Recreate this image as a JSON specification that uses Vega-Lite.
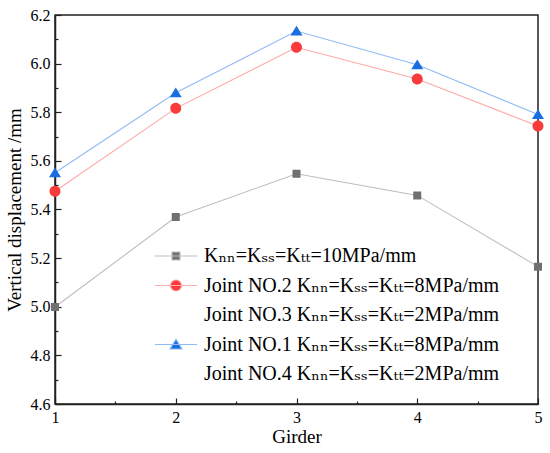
{
  "$schema": "https://vega.github.io/schema/vega-lite/v6.json",
  "width": 483,
  "height": 389,
  "autosize": {"type": "none"},
  "padding": {"left": 55, "top": 15, "right": 12, "bottom": 49},
  "background": "white",
  "config": {
    "font": "Liberation Serif",
    "view": {"stroke": "#222222", "strokeWidth": 1.5},
    "axis": {
      "domainColor": "#222222",
      "domainWidth": 1.5,
      "tickColor": "#222222",
      "tickWidth": 1.2,
      "grid": false,
      "labelColor": "black",
      "titleColor": "black",
      "labelFont": "Liberation Serif",
      "titleFont": "Liberation Serif",
      "labelFontSize": 16,
      "titleFontSize": 19,
      "titleFontWeight": "normal"
    },
    "legend": {
      "labelFont": "Liberation Serif, DejaVu Serif",
      "labelFontSize": 20,
      "labelColor": "black",
      "labelLimit": 0
    }
  },
  "data": {
    "values": [
      {"girder": 1, "series": "Kₙₙ=Kₛₛ=Kₜₜ=10MPa/mm", "v": 4.999},
      {"girder": 2, "series": "Kₙₙ=Kₛₛ=Kₜₜ=10MPa/mm", "v": 5.369},
      {"girder": 3, "series": "Kₙₙ=Kₛₛ=Kₜₜ=10MPa/mm", "v": 5.547},
      {"girder": 4, "series": "Kₙₙ=Kₛₛ=Kₜₜ=10MPa/mm", "v": 5.458},
      {"girder": 5, "series": "Kₙₙ=Kₛₛ=Kₜₜ=10MPa/mm", "v": 5.165},
      {"girder": 1, "series": "Joint NO.2 Kₙₙ=Kₛₛ=Kₜₜ=8MPa/mm", "v": 5.475},
      {"girder": 2, "series": "Joint NO.2 Kₙₙ=Kₛₛ=Kₜₜ=8MPa/mm", "v": 5.816},
      {"girder": 3, "series": "Joint NO.2 Kₙₙ=Kₛₛ=Kₜₜ=8MPa/mm", "v": 6.067},
      {"girder": 4, "series": "Joint NO.2 Kₙₙ=Kₛₛ=Kₜₜ=8MPa/mm", "v": 5.937},
      {"girder": 5, "series": "Joint NO.2 Kₙₙ=Kₛₛ=Kₜₜ=8MPa/mm", "v": 5.743},
      {"girder": 1, "series": "Joint NO.1 Kₙₙ=Kₛₛ=Kₜₜ=8MPa/mm", "v": 5.551},
      {"girder": 2, "series": "Joint NO.1 Kₙₙ=Kₛₛ=Kₜₜ=8MPa/mm", "v": 5.88},
      {"girder": 3, "series": "Joint NO.1 Kₙₙ=Kₛₛ=Kₜₜ=8MPa/mm", "v": 6.134},
      {"girder": 4, "series": "Joint NO.1 Kₙₙ=Kₛₛ=Kₜₜ=8MPa/mm", "v": 5.995},
      {"girder": 5, "series": "Joint NO.1 Kₙₙ=Kₛₛ=Kₜₜ=8MPa/mm", "v": 5.791}
    ]
  },
  "layer": [
    {
      "mark": {"type": "line", "strokeWidth": 1.1},
      "encoding": {
        "x": {
          "field": "girder",
          "type": "quantitative",
          "scale": {"domain": [1, 5]},
          "axis": {
            "title": "Girder",
            "values": [1, 2, 3, 4, 5],
            "format": "d",
            "tickSize": -6,
            "labelPadding": 11,
            "labelFlush": false,
            "titlePadding": 2
          }
        },
        "y": {
          "field": "v",
          "type": "quantitative",
          "scale": {"domain": [4.6, 6.2]},
          "axis": {
            "title": "Vertical displacement /mm",
            "values": [4.6, 4.8, 5.0, 5.2, 5.4, 5.6, 5.8, 6.0, 6.2],
            "format": ".1f",
            "tickSize": -6,
            "labelPadding": 11,
            "titlePadding": 6
          }
        },
        "stroke": {
          "field": "series",
          "type": "nominal",
          "scale": {
            "domain": [
              "Kₙₙ=Kₛₛ=Kₜₜ=10MPa/mm",
              "Joint NO.2 Kₙₙ=Kₛₛ=Kₜₜ=8MPa/mm",
              "Joint NO.3 Kₙₙ=Kₛₛ=Kₜₜ=2MPa/mm",
              "Joint NO.1 Kₙₙ=Kₛₛ=Kₜₜ=8MPa/mm",
              "Joint NO.4 Kₙₙ=Kₛₛ=Kₜₜ=2MPa/mm"
            ],
            "range": ["#bdbdbd", "#ffa8a8", "rgba(0,0,0,0)", "#8dbcf3", "rgba(0,0,0,0)"]
          },
          "legend": {
            "title": null,
            "orient": "none",
            "legendX": 111,
            "legendY": 231,
            "padding": 0,
            "rowPadding": 9.5,
            "labelOffset": 18,
            "symbolStrokeWidth": 1.1
          }
        }
      }
    },
    {
      "mark": {"type": "point", "filled": true, "opacity": 1, "size": 100},
      "encoding": {
        "x": {
          "field": "girder",
          "type": "quantitative",
          "axis": {
            "orient": "bottom",
            "title": null,
            "values": [1.5, 2.5, 3.5, 4.5],
            "labels": false,
            "domain": false,
            "tickSize": -3
          }
        },
        "y": {
          "field": "v",
          "type": "quantitative",
          "axis": {
            "orient": "left",
            "title": null,
            "values": [4.7, 4.9, 5.1, 5.3, 5.5, 5.7, 5.9, 6.1],
            "labels": false,
            "domain": false,
            "tickSize": -3
          }
        },
        "color": {
          "field": "series",
          "type": "nominal",
          "scale": {
            "domain": [
              "Kₙₙ=Kₛₛ=Kₜₜ=10MPa/mm",
              "Joint NO.2 Kₙₙ=Kₛₛ=Kₜₜ=8MPa/mm",
              "Joint NO.3 Kₙₙ=Kₛₛ=Kₜₜ=2MPa/mm",
              "Joint NO.1 Kₙₙ=Kₛₛ=Kₜₜ=8MPa/mm",
              "Joint NO.4 Kₙₙ=Kₛₛ=Kₜₜ=2MPa/mm"
            ],
            "range": ["#707070", "#fa3b3b", "rgba(0,0,0,0)", "#1a6fe0", "rgba(0,0,0,0)"]
          },
          "legend": {
            "title": null,
            "orient": "none",
            "legendX": 111,
            "legendY": 231,
            "padding": 0,
            "rowPadding": 9.5,
            "labelOffset": 18,
            "symbolStrokeWidth": 1.1
          }
        },
        "shape": {
          "field": "series",
          "type": "nominal",
          "scale": {
            "domain": [
              "Kₙₙ=Kₛₛ=Kₜₜ=10MPa/mm",
              "Joint NO.2 Kₙₙ=Kₛₛ=Kₜₜ=8MPa/mm",
              "Joint NO.3 Kₙₙ=Kₛₛ=Kₜₜ=2MPa/mm",
              "Joint NO.1 Kₙₙ=Kₛₛ=Kₜₜ=8MPa/mm",
              "Joint NO.4 Kₙₙ=Kₛₛ=Kₜₜ=2MPa/mm"
            ],
            "range": [
              "M-4.2,0H4.2M-0.8,-0.8H0.8V0.8H-0.8Z",
              "M-4.2,0H4.2M-1.1,0A1.1,1.1,0,1,1,1.1,0A1.1,1.1,0,1,1,-1.1,0Z",
              "M0,0",
              "M-4.2,0H4.2M0,-1.05L1.2,0.9H-1.2Z",
              "M0,0"
            ]
          },
          "legend": {
            "title": null,
            "orient": "none",
            "legendX": 111,
            "legendY": 231,
            "padding": 0,
            "rowPadding": 9.5,
            "labelOffset": 18,
            "symbolStrokeWidth": 1.1
          }
        }
      }
    }
  ],
  "resolve": {"axis": {"x": "independent", "y": "independent"}}
}
